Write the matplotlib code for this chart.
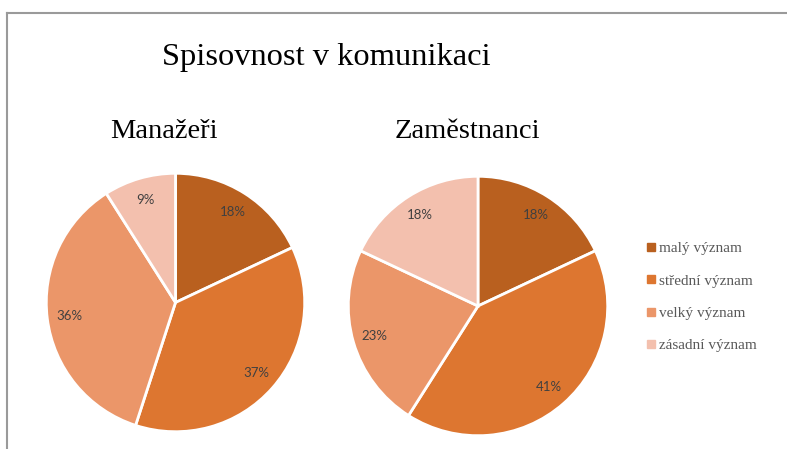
import matplotlib.pyplot as plt
from matplotlib.lines import Line2D

# data
categories = ['malý význam', 'střední význam', 'velký význam', 'zásadní význam']
manazeri = [18, 37, 36, 9]
zamestnanci = [18, 41, 23, 18]
colors = ['#B9601F', '#DD7630', '#EB9669', '#F3C0AE']

W, H = 787, 449
fig = plt.figure(figsize=(W / 100, H / 100), dpi=100)

# grey frame (top + left only visible)
fig.add_artist(Line2D([7 / W, 1], [1 - 13 / H, 1 - 13 / H], color='#9a9a9a', lw=1.5))
fig.add_artist(Line2D([7 / W, 7 / W], [0, 1 - 13 / H], color='#9a9a9a', lw=1.5))


def pie_axes(cx, cy, r):
    return fig.add_axes([(cx - r) / W, 1 - (cy + r) / H, 2 * r / W, 2 * r / H])


def draw_pie(ax, vals):
    wedges, _, autotexts = ax.pie(
        vals, colors=colors, startangle=90, counterclock=False,
        autopct=lambda p: '%.0f%%' % p, pctdistance=0.83,
        wedgeprops=dict(edgecolor='white', linewidth=2),
        textprops=dict(color='#404040', fontsize=9.5, family='Lato'))
    ax.set_xlim(-1.01, 1.01)
    ax.set_ylim(-1.01, 1.01)
    ax.set_aspect('equal')
    return wedges


ax1 = pie_axes(175.5, 302.5, 130.5)
wedges = draw_pie(ax1, manazeri)
ax2 = pie_axes(478, 306, 131)
draw_pie(ax2, zamestnanci)

serif = 'Liberation Serif'
fig.text(326 / W, 1 - 57 / H, 'Spisovnost v komunikaci', family=serif,
         fontsize=23.4, ha='center', va='center', color='black')
fig.text(164 / W, 1 - 132 / H, 'Manažeři', family=serif,
         fontsize=20.5, ha='center', va='center', color='black')
fig.text(467 / W, 1 - 132 / H, 'Zaměstnanci', family=serif,
         fontsize=20.5, ha='center', va='center', color='black')

handles = [Line2D([], [], marker='s', ls='', markersize=6, color=c) for c in colors]
leg = fig.legend(handles, categories, loc='center left',
                 bbox_to_anchor=(633 / W, 1 - 297 / H), frameon=False,
                 prop=dict(family=serif, size=11), labelcolor='#595959',
                 handlelength=0.6, handletextpad=0.2, labelspacing=1.22)

fig.savefig('out.png', dpi=100, facecolor='white')
